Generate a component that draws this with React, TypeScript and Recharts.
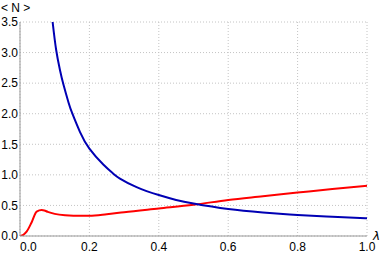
import React from "react";
import { LineChart, Line, XAxis, YAxis, CartesianGrid } from "recharts";

const xTicks = [0, 0.2, 0.4, 0.6, 0.8, 1.0];
const yTicks = [0, 0.5, 1.0, 1.5, 2.0, 2.5, 3.0, 3.5];
const xMinorTicks = [0, 0.04, 0.08, 0.12, 0.16, 0.2, 0.24, 0.28, 0.32, 0.36, 0.4, 0.44, 0.48, 0.52, 0.56, 0.6, 0.64, 0.68, 0.72, 0.76, 0.8, 0.84, 0.88, 0.92, 0.96, 1.0];
const yMinorTicks = [0, 0.1, 0.2, 0.3, 0.4, 0.5, 0.6, 0.7, 0.8, 0.9, 1.0, 1.1, 1.2, 1.3, 1.4, 1.5, 1.6, 1.7, 1.8, 1.9, 2.0, 2.1, 2.2, 2.3, 2.4, 2.5, 2.6, 2.7, 2.8, 2.9, 3.0, 3.1, 3.2, 3.3, 3.4, 3.5];

// λ and <N>
const blueLambda = [0.094, 0.104, 0.115, 0.125, 0.14, 0.151, 0.173, 0.2, 0.24, 0.269, 0.288, 0.336, 0.4, 0.45, 0.5, 0.6, 0.7, 0.8, 0.9, 1.0];
const blueN = [3.5, 3.05, 2.72, 2.48, 2.18, 2.0, 1.7, 1.43, 1.17, 1.02, 0.94, 0.8, 0.67, 0.59, 0.53, 0.44, 0.385, 0.345, 0.315, 0.29];

const redLambda = [0, 0.01, 0.019, 0.034, 0.048, 0.0625, 0.07, 0.08, 0.1, 0.13, 0.178, 0.2, 0.25, 0.3, 0.4, 0.5, 0.6, 0.7, 0.8, 0.9, 1.0];
const redN = [0, 0.02, 0.07, 0.23, 0.4, 0.425, 0.418, 0.395, 0.362, 0.34, 0.33, 0.33, 0.355, 0.39, 0.45, 0.51, 0.59, 0.65, 0.71, 0.77, 0.82];

const blueData = blueLambda.map((x, i) => ({ x, n: blueN[i] }));
const redData = redLambda.map((x, i) => ({ x, n: redN[i] }));

const font = "'Liberation Sans', Arial, sans-serif";
const axisGray = "#999";

function XTick(props: any) {
  const { x, y, payload } = props;
  const first = payload.value === 0;
  return (
    <text x={x} y={y} dy="0.71em" textAnchor={first ? "start" : "middle"} fontSize={12} fontFamily={font} fill="#000">
      {payload.value.toFixed(1)}
    </text>
  );
}

function YTick(props: any) {
  const { x, y, payload } = props;
  return (
    <text x={x} y={y} dy="0.355em" textAnchor="end" fontSize={12} fontFamily={font} fill="#000">
      {payload.value.toFixed(1)}
    </text>
  );
}

export default function App() {
  return (
    <div style={{ position: "absolute", left: 0, top: 0, width: 381, height: 256, background: "#fff" }}>
      <LineChart width={381} height={256} margin={{ top: 22, right: 14, bottom: 0, left: 0 }}>
        <CartesianGrid stroke="#c4c4c4" strokeDasharray="1 2" />
        <XAxis
          dataKey="x"
          type="number"
          domain={[0, 1]}
          ticks={xTicks}
          height={20}
          tickSize={0}
          tickMargin={6}
          tickLine={false}
          axisLine={{ stroke: axisGray }}
          tick={<XTick />}
          label={{
            content: (p: any) => (
              <text x={p.viewBox.x + p.viewBox.width + 6} y={p.viewBox.y + 4} fontSize={12} fontStyle="italic" fontFamily="'DejaVu Sans', sans-serif" fill="#000">
                λ
              </text>
            ),
          }}
        />
        <XAxis xAxisId="minor" dataKey="x" type="number" domain={[0, 1]} ticks={xMinorTicks} mirror tickSize={2} tick={false} axisLine={false} tickLine={{ stroke: "#aaa" }} height={0} />
        <YAxis
          type="number"
          domain={[0, 3.5]}
          ticks={yTicks}
          allowDataOverflow
          width={20}
          tickSize={0}
          tickMargin={2}
          tickLine={false}
          axisLine={{ stroke: axisGray }}
          tick={<YTick />}
          label={{
            content: (p: any) => (
              <text x={p.viewBox.x + 1} y={p.viewBox.y - 10} fontSize={12} fontFamily={font} fill="#000">
                {"< N >"}
              </text>
            ),
          }}
        />
        <YAxis yAxisId="minor" type="number" domain={[0, 3.5]} ticks={yMinorTicks} mirror tickSize={2} tick={false} axisLine={false} tickLine={{ stroke: "#aaa" }} width={0} />
        <Line data={redData} dataKey="n" type="monotone" stroke="#ff0000" strokeWidth={2} dot={false} isAnimationActive={false} />
        <Line data={blueData} dataKey="n" type="natural" stroke="#0000b4" strokeWidth={2} dot={false} isAnimationActive={false} />
      </LineChart>
    </div>
  );
}
